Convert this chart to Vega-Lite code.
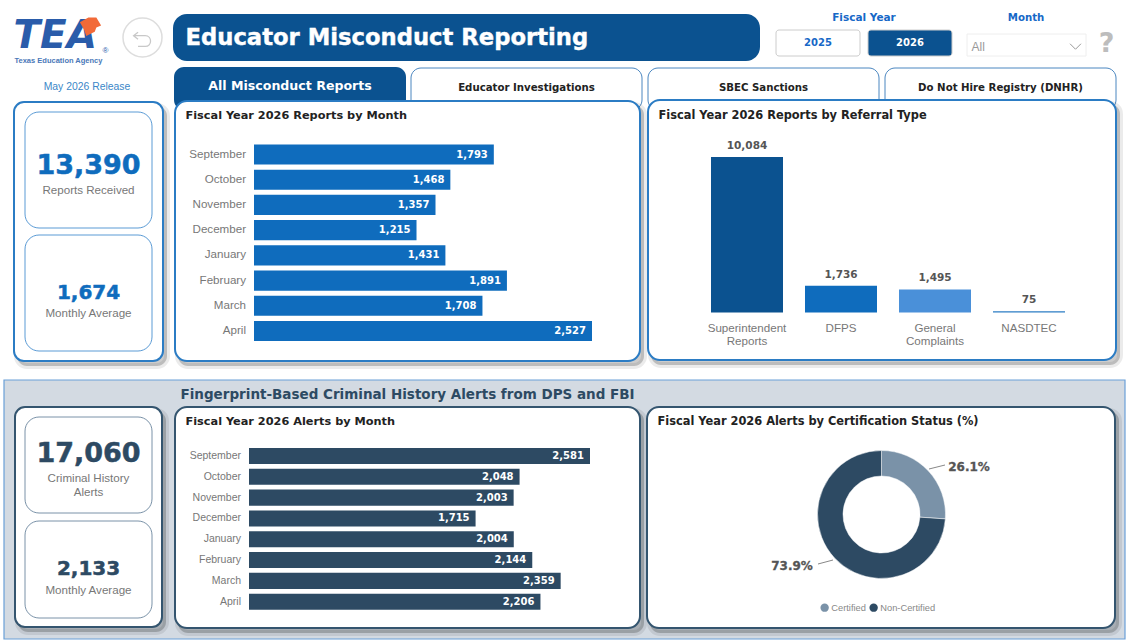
{"$schema":"https://vega.github.io/schema/vega-lite/v6.json","width":1140,"height":641,"padding":0,"autosize":{"type":"fit","contains":"padding"},"background":"white",
"config":{"view":{"stroke":null},"font":"Liberation Sans","scale":{"rectBandPaddingInner":0,"bandPaddingInner":0,"bandPaddingOuter":0},"text":{"font":"Liberation Sans"}},
"resolve":{"scale":{"x":"independent","y":"independent","color":"independent","theta":"independent"}},
"layer":[
{"data":{"values":[{"p":"Fingerprint-Based Criminal History Alerts from DPS and FBI"}]},"encoding":{"x":{"field":"p","type":"nominal","axis":null,"scale":{"type":"band","range":[4,1125]}},"y":{"field":"p","type":"nominal","axis":null,"scale":{"type":"band","range":[380,639]}}},"mark":{"type":"rect","fill":"#D3DAE2","stroke":"#6AA0D8","strokeWidth":1.2}},
{"data":{"values":[{"p":"Fingerprint-Based Criminal History Alerts from DPS and FBI"}]},"encoding":{"x":{"field":"p","type":"nominal","axis":null,"scale":{"type":"band","range":[180,181]}},"y":{"field":"p","type":"nominal","axis":null,"scale":{"type":"band","range":[394,395]}},"text":{"field":"p"}},"mark":{"type":"text","align":"left","baseline":"middle","font":"DejaVu Sans","fontWeight":"bold","fontSize":13.5,"fill":"#2D4A63"}},

{"data":{"values":[{"p":"TEA"}]},"encoding":{"x":{"field":"p","type":"nominal","axis":null,"scale":{"type":"band","range":[13,14]}},"y":{"field":"p","type":"nominal","axis":null,"scale":{"type":"band","range":[35,36]}},"text":{"field":"p"}},"mark":{"type":"text","align":"left","baseline":"middle","font":"DejaVu Sans","fontWeight":"bold","fontStyle":"italic","fontSize":39,"fill":"#2A5CAA"}},
{"data":{"values":[{"p":"logo hat"}]},"encoding":{"x":{"field":"p","type":"nominal","axis":null,"scale":{"type":"band","range":[90,91]}},"y":{"field":"p","type":"nominal","axis":null,"scale":{"type":"band","range":[26,27]}}},"mark":{"type":"point","filled":true,"fill":"#F26A38","opacity":1,"size":450,"shape":"M-1,-0.4 L-0.2,-0.85 L0.55,-0.85 L1,-0.1 L0.55,0.1 L0.4,0.5 L-0.4,0.9 L-0.6,0.3 Z"}},
{"data":{"values":[{"p":"®"}]},"encoding":{"x":{"field":"p","type":"nominal","axis":null,"scale":{"type":"band","range":[105,106]}},"y":{"field":"p","type":"nominal","axis":null,"scale":{"type":"band","range":[50,51]}},"text":{"field":"p"}},"mark":{"type":"text","fontSize":8,"fill":"#2A5CAA"}},
{"data":{"values":[{"p":"Texas Education Agency"}]},"encoding":{"x":{"field":"p","type":"nominal","axis":null,"scale":{"type":"band","range":[14,15]}},"y":{"field":"p","type":"nominal","axis":null,"scale":{"type":"band","range":[60,61]}},"text":{"field":"p"}},"mark":{"type":"text","align":"left","baseline":"middle","fontWeight":"bold","fontSize":7.5,"fill":"#4A78B8"}},
{"data":{"values":[{"p":"back"}]},"encoding":{"x":{"field":"p","type":"nominal","axis":null,"scale":{"type":"band","range":[123,162]}},"y":{"field":"p","type":"nominal","axis":null,"scale":{"type":"band","range":[18,57]}}},"layer":[{"mark":{"type":"rect","fill":"white","stroke":"#DDDDDD","strokeWidth":1.5,"cornerRadius":19.5}},{"mark":{"type":"point","filled":false,"stroke":"#C8C8C8","strokeWidth":1.3,"opacity":1,"size":320,"shape":"M-0.5,-0.6 L-1,-0.2 L-0.5,0.2 M-1,-0.2 L0.3,-0.2 C1.1,-0.2 1.1,1 0.3,1 L-0.5,1"}}]},
{"data":{"values":[{"p":"Educator Misconduct Reporting"}]},"encoding":{"x":{"field":"p","type":"nominal","axis":null,"scale":{"type":"band","range":[173,760]}},"y":{"field":"p","type":"nominal","axis":null,"scale":{"type":"band","range":[14,61]}}},"mark":{"type":"rect","fill":"#0B5290","cornerRadius":14}},
{"data":{"values":[{"p":"Educator Misconduct Reporting"}]},"encoding":{"x":{"field":"p","type":"nominal","axis":null,"scale":{"type":"band","range":[185,186]}},"y":{"field":"p","type":"nominal","axis":null,"scale":{"type":"band","range":[37,38]}},"text":{"field":"p"}},"mark":{"type":"text","align":"left","baseline":"middle","font":"DejaVu Sans","fontWeight":"bold","fontSize":22.7,"fill":"white","stroke":"white","strokeWidth":0.4}},
{"data":{"values":[{"p":"Fiscal Year"}]},"encoding":{"x":{"field":"p","type":"nominal","axis":null,"scale":{"type":"band","range":[840,888]}},"y":{"field":"p","type":"nominal","axis":null,"scale":{"type":"band","range":[12,24]}},"text":{"field":"p"}},"mark":{"type":"text","font":"DejaVu Sans","fontWeight":"bold","fontSize":10.5,"fill":"#1668C7"}},
{"data":{"values":[{"p":"Month"}]},"encoding":{"x":{"field":"p","type":"nominal","axis":null,"scale":{"type":"band","range":[1000,1052]}},"y":{"field":"p","type":"nominal","axis":null,"scale":{"type":"band","range":[12,24]}},"text":{"field":"p"}},"mark":{"type":"text","font":"DejaVu Sans","fontWeight":"bold","fontSize":10.2,"fill":"#1668C7"}},
{"data":{"values":[{"p":"2025"}]},"encoding":{"x":{"field":"p","type":"nominal","axis":null,"scale":{"type":"band","range":[776,860]}},"y":{"field":"p","type":"nominal","axis":null,"scale":{"type":"band","range":[30,56]}}},"layer":[{"mark":{"type":"rect","fill":"white","stroke":"#CCCCCC","cornerRadius":3}},{"encoding":{"text":{"field":"p"}},"mark":{"type":"text","font":"DejaVu Sans","fontWeight":"bold","fontSize":10,"fill":"#1668C7"}}]},
{"data":{"values":[{"p":"2026"}]},"encoding":{"x":{"field":"p","type":"nominal","axis":null,"scale":{"type":"band","range":[868,952]}},"y":{"field":"p","type":"nominal","axis":null,"scale":{"type":"band","range":[30,56]}}},"layer":[{"mark":{"type":"rect","fill":"#0B5290","stroke":"#CCCCCC","cornerRadius":3}},{"encoding":{"text":{"field":"p"}},"mark":{"type":"text","font":"DejaVu Sans","fontWeight":"bold","fontSize":10,"fill":"white"}}]},
{"data":{"values":[{"p":"All"}]},"encoding":{"x":{"field":"p","type":"nominal","axis":null,"scale":{"type":"band","range":[967,1086]}},"y":{"field":"p","type":"nominal","axis":null,"scale":{"type":"band","range":[34,56]}}},"mark":{"type":"rect","fill":"white","stroke":"#EEEEEE"}},
{"data":{"values":[{"p":"All"}]},"encoding":{"x":{"field":"p","type":"nominal","axis":null,"scale":{"type":"band","range":[971,972]}},"y":{"field":"p","type":"nominal","axis":null,"scale":{"type":"band","range":[46,47]}},"text":{"field":"p"}},"mark":{"type":"text","align":"left","baseline":"middle","fontSize":12,"fill":"#999999"}},
{"data":{"values":[{"p":"chevron"}]},"encoding":{"x":{"field":"p","type":"nominal","axis":null,"scale":{"type":"band","range":[1075,1076]}},"y":{"field":"p","type":"nominal","axis":null,"scale":{"type":"band","range":[46,47]}}},"mark":{"type":"point","filled":false,"stroke":"#999999","strokeWidth":1,"opacity":1,"size":120,"shape":"M-1,-0.5 L0,0.5 L1,-0.5"}},
{"data":{"values":[{"p":"?"}]},"encoding":{"x":{"field":"p","type":"nominal","axis":null,"scale":{"type":"band","range":[1106,1107]}},"y":{"field":"p","type":"nominal","axis":null,"scale":{"type":"band","range":[43,44]}},"text":{"field":"p"}},"mark":{"type":"text","baseline":"middle","font":"DejaVu Sans","fontWeight":"bold","fontSize":27,"fill":"#BDBDBD"}},
{"data":{"values":[{"p":"May 2026 Release"}]},"encoding":{"x":{"field":"p","type":"nominal","axis":null,"scale":{"type":"band","range":[40,134]}},"y":{"field":"p","type":"nominal","axis":null,"scale":{"type":"band","range":[81,93]}},"text":{"field":"p"}},"mark":{"type":"text","fontSize":10.4,"fill":"#3B87C8"}},

{"data":{"values":[{"p":"All Misconduct Reports"}]},"encoding":{"x":{"field":"p","type":"nominal","axis":null,"scale":{"type":"band","range":[174,406]}},"y":{"field":"p","type":"nominal","axis":null,"scale":{"type":"band","range":[67,110]}}},"mark":{"type":"rect","fill":"#0B5290","cornerRadius":10}},
{"data":{"values":[{"p":"All Misconduct Reports"}]},"encoding":{"x":{"field":"p","type":"nominal","axis":null,"scale":{"type":"band","range":[174,406]}},"y":{"field":"p","type":"nominal","axis":null,"scale":{"type":"band","range":[80,91]}},"text":{"field":"p"}},"mark":{"type":"text","font":"DejaVu Sans","fontWeight":"bold","fontSize":12.6,"fill":"white"}},
{"data":{"values":[{"p":"Educator Investigations"}]},"encoding":{"x":{"field":"p","type":"nominal","axis":null,"scale":{"type":"band","range":[411,642]}},"y":{"field":"p","type":"nominal","axis":null,"scale":{"type":"band","range":[68,110]}}},"mark":{"type":"rect","fill":"white","stroke":"#4A86C0","cornerRadius":10}},
{"data":{"values":[{"p":"Educator Investigations"}]},"encoding":{"x":{"field":"p","type":"nominal","axis":null,"scale":{"type":"band","range":[411,642]}},"y":{"field":"p","type":"nominal","axis":null,"scale":{"type":"band","range":[82,93]}},"text":{"field":"p"}},"mark":{"type":"text","font":"DejaVu Sans","fontWeight":"bold","fontSize":10.2,"fill":"#222222"}},
{"data":{"values":[{"p":"SBEC Sanctions"}]},"encoding":{"x":{"field":"p","type":"nominal","axis":null,"scale":{"type":"band","range":[648,879]}},"y":{"field":"p","type":"nominal","axis":null,"scale":{"type":"band","range":[68,110]}}},"mark":{"type":"rect","fill":"white","stroke":"#4A86C0","cornerRadius":10}},
{"data":{"values":[{"p":"SBEC Sanctions"}]},"encoding":{"x":{"field":"p","type":"nominal","axis":null,"scale":{"type":"band","range":[648,879]}},"y":{"field":"p","type":"nominal","axis":null,"scale":{"type":"band","range":[82,93]}},"text":{"field":"p"}},"mark":{"type":"text","font":"DejaVu Sans","fontWeight":"bold","fontSize":10.2,"fill":"#222222"}},
{"data":{"values":[{"p":"Do Not Hire Registry (DNHR)"}]},"encoding":{"x":{"field":"p","type":"nominal","axis":null,"scale":{"type":"band","range":[885,1116]}},"y":{"field":"p","type":"nominal","axis":null,"scale":{"type":"band","range":[68,110]}}},"mark":{"type":"rect","fill":"white","stroke":"#4A86C0","cornerRadius":10}},
{"data":{"values":[{"p":"Do Not Hire Registry (DNHR)"}]},"encoding":{"x":{"field":"p","type":"nominal","axis":null,"scale":{"type":"band","range":[885,1116]}},"y":{"field":"p","type":"nominal","axis":null,"scale":{"type":"band","range":[82,93]}},"text":{"field":"p"}},"mark":{"type":"text","font":"DejaVu Sans","fontWeight":"bold","fontSize":10.2,"fill":"#222222"}},

{"data":{"values":[{"p":"s1"}]},"encoding":{"x":{"field":"p","type":"nominal","axis":null,"scale":{"type":"band","range":[17,167]}},"y":{"field":"p","type":"nominal","axis":null,"scale":{"type":"band","range":[106,366]}}},"mark":{"type":"rect","fill":"#000000","fillOpacity":0.2,"stroke":"#000000","strokeOpacity":0.08,"strokeWidth":6,"cornerRadius":10}},
{"data":{"values":[{"p":"s2"}]},"encoding":{"x":{"field":"p","type":"nominal","axis":null,"scale":{"type":"band","range":[178,644]}},"y":{"field":"p","type":"nominal","axis":null,"scale":{"type":"band","range":[105,366]}}},"mark":{"type":"rect","fill":"#000000","fillOpacity":0.2,"stroke":"#000000","strokeOpacity":0.08,"strokeWidth":6,"cornerRadius":10}},
{"data":{"values":[{"p":"s3"}]},"encoding":{"x":{"field":"p","type":"nominal","axis":null,"scale":{"type":"band","range":[651,1120]}},"y":{"field":"p","type":"nominal","axis":null,"scale":{"type":"band","range":[104,365]}}},"mark":{"type":"rect","fill":"#000000","fillOpacity":0.2,"stroke":"#000000","strokeOpacity":0.08,"strokeWidth":6,"cornerRadius":10}},
{"data":{"values":[{"p":"s4"}]},"encoding":{"x":{"field":"p","type":"nominal","axis":null,"scale":{"type":"band","range":[18,166]}},"y":{"field":"p","type":"nominal","axis":null,"scale":{"type":"band","range":[411,632]}}},"mark":{"type":"rect","fill":"#000000","fillOpacity":0.2,"stroke":"#000000","strokeOpacity":0.08,"strokeWidth":6,"cornerRadius":10}},
{"data":{"values":[{"p":"s5"}]},"encoding":{"x":{"field":"p","type":"nominal","axis":null,"scale":{"type":"band","range":[178,644]}},"y":{"field":"p","type":"nominal","axis":null,"scale":{"type":"band","range":[411,633]}}},"mark":{"type":"rect","fill":"#000000","fillOpacity":0.2,"stroke":"#000000","strokeOpacity":0.08,"strokeWidth":6,"cornerRadius":10}},
{"data":{"values":[{"p":"s6"}]},"encoding":{"x":{"field":"p","type":"nominal","axis":null,"scale":{"type":"band","range":[650,1119]}},"y":{"field":"p","type":"nominal","axis":null,"scale":{"type":"band","range":[411,633]}}},"mark":{"type":"rect","fill":"#000000","fillOpacity":0.2,"stroke":"#000000","strokeOpacity":0.08,"strokeWidth":6,"cornerRadius":10}},

{"data":{"values":[{"p":"top kpi"}]},"encoding":{"x":{"field":"p","type":"nominal","axis":null,"scale":{"type":"band","range":[14,163]}},"y":{"field":"p","type":"nominal","axis":null,"scale":{"type":"band","range":[102,361]}}},"mark":{"type":"rect","fill":"white","stroke":"#2B7CC4","strokeWidth":2,"cornerRadius":10}},
{"data":{"values":[{"p":"Reports Received","v":13390}]},"encoding":{"x":{"field":"p","type":"nominal","axis":null,"scale":{"type":"band","range":[25,152]}},"y":{"field":"p","type":"nominal","axis":null,"scale":{"type":"band","range":[112,228]}}},"layer":[{"mark":{"type":"rect","fill":"white","stroke":"#5B9BD5","cornerRadius":14}},{"encoding":{"text":{"field":"v","type":"quantitative","format":","}},"mark":{"type":"text","dy":-4,"font":"DejaVu Sans","fontWeight":"bold","fontSize":27,"fill":"#0F6CBD","stroke":"#0F6CBD","strokeWidth":0.5}},{"encoding":{"text":{"field":"p"}},"mark":{"type":"text","dy":21,"fontSize":11.6,"fill":"#777777"}}]},
{"data":{"values":[{"p":"Monthly Average","v":1674}]},"encoding":{"x":{"field":"p","type":"nominal","axis":null,"scale":{"type":"band","range":[25,152]}},"y":{"field":"p","type":"nominal","axis":null,"scale":{"type":"band","range":[235,351]}}},"layer":[{"mark":{"type":"rect","fill":"white","stroke":"#5B9BD5","cornerRadius":14}},{"encoding":{"text":{"field":"v","type":"quantitative","format":","}},"mark":{"type":"text","dy":0,"font":"DejaVu Sans","fontWeight":"bold","fontSize":20,"fill":"#0F6CBD","stroke":"#0F6CBD","strokeWidth":0.5}},{"encoding":{"text":{"field":"p"}},"mark":{"type":"text","dy":21,"fontSize":11.6,"fill":"#777777"}}]},

{"data":{"values":[{"p":"Fiscal Year 2026 Reports by Month"}]},"encoding":{"x":{"field":"p","type":"nominal","axis":null,"scale":{"type":"band","range":[175,640]}},"y":{"field":"p","type":"nominal","axis":null,"scale":{"type":"band","range":[101,361]}}},"mark":{"type":"rect","fill":"white","stroke":"#2B7CC4","strokeWidth":2,"cornerRadius":12}},
{"data":{"values":[{"p":"Fiscal Year 2026 Reports by Month"}]},"encoding":{"x":{"field":"p","type":"nominal","axis":null,"scale":{"type":"band","range":[185,186]}},"y":{"field":"p","type":"nominal","axis":null,"scale":{"type":"band","range":[115,116]}},"text":{"field":"p"}},"mark":{"type":"text","align":"left","baseline":"middle","font":"DejaVu Sans","fontWeight":"bold","fontSize":11.3,"fill":"#222222"}},
{"data":{"values":[{"month":"September","reports":1793},{"month":"October","reports":1468},{"month":"November","reports":1357},{"month":"December","reports":1215},{"month":"January","reports":1431},{"month":"February","reports":1891},{"month":"March","reports":1708},{"month":"April","reports":2527}]},"encoding":{"y":{"field":"month","type":"nominal","sort":null,"axis":null,"scale":{"type":"band","range":[141.9,343.6],"paddingInner":0.2,"paddingOuter":0.1}}},"layer":[
{"encoding":{"x":{"field":"reports","type":"quantitative","axis":null,"scale":{"domain":[0,2527],"range":[254,592],"nice":false}}},"mark":{"type":"bar","fill":"#0F6CBD"}},
{"encoding":{"x":{"field":"reports","type":"quantitative","axis":null},"text":{"field":"reports","type":"quantitative","format":","}},"mark":{"type":"text","align":"right","dx":-6,"font":"DejaVu Sans","fontWeight":"bold","fontSize":10,"fill":"white"}},
{"encoding":{"x":{"datum":0,"type":"quantitative","axis":null},"text":{"field":"month"}},"mark":{"type":"text","align":"right","dx":-8,"fontSize":11.6,"fill":"#777777"}}]},

{"data":{"values":[{"p":"Fiscal Year 2026 Reports by Referral Type"}]},"encoding":{"x":{"field":"p","type":"nominal","axis":null,"scale":{"type":"band","range":[648,1116]}},"y":{"field":"p","type":"nominal","axis":null,"scale":{"type":"band","range":[100,360]}}},"mark":{"type":"rect","fill":"white","stroke":"#2B7CC4","strokeWidth":2,"cornerRadius":12}},
{"data":{"values":[{"p":"Fiscal Year 2026 Reports by Referral Type"}]},"encoding":{"x":{"field":"p","type":"nominal","axis":null,"scale":{"type":"band","range":[658,659]}},"y":{"field":"p","type":"nominal","axis":null,"scale":{"type":"band","range":[115,116]}},"text":{"field":"p"}},"mark":{"type":"text","align":"left","baseline":"middle","font":"DejaVu Sans","fontWeight":"bold","fontSize":11.4,"fill":"#222222"}},
{"data":{"values":[{"type":"Superintendent Reports","reports":10084},{"type":"DFPS","reports":1736},{"type":"General Complaints","reports":1495},{"type":"NASDTEC","reports":75}]},"encoding":{"x":{"field":"type","type":"nominal","sort":null,"axis":null,"scale":{"type":"band","range":[700,1076],"paddingInner":0.234,"paddingOuter":0.117}}},"layer":[
{"encoding":{"y":{"field":"reports","type":"quantitative","axis":null,"scale":{"domain":[0,10084],"range":[312.5,157],"nice":false}},"color":{"field":"type","type":"nominal","legend":null,"sort":null,"scale":{"domain":["Superintendent Reports","DFPS","General Complaints","NASDTEC"],"range":["#0B5290","#0F6CBD","#4A90D9","#2B7CC4"]}}},"mark":{"type":"bar"}},
{"encoding":{"y":{"field":"reports","type":"quantitative","axis":null},"text":{"field":"reports","type":"quantitative","format":","}},"mark":{"type":"text","baseline":"bottom","dy":-6,"font":"DejaVu Sans","fontWeight":"bold","fontSize":10.5,"fill":"#555555"}},
{"encoding":{"y":{"datum":0,"type":"quantitative","axis":null},"text":{"field":"type"}},"mark":{"type":"text","baseline":"top","dy":10,"lineBreak":" ","lineHeight":13,"fontSize":11.6,"fill":"#777777"}}]},

{"data":{"values":[{"p":"lower kpi"}]},"encoding":{"x":{"field":"p","type":"nominal","axis":null,"scale":{"type":"band","range":[15,162]}},"y":{"field":"p","type":"nominal","axis":null,"scale":{"type":"band","range":[407,627]}}},"mark":{"type":"rect","fill":"white","stroke":"#34556F","strokeWidth":2,"cornerRadius":10}},
{"data":{"values":[{"p":"Criminal History Alerts","v":17060}]},"encoding":{"x":{"field":"p","type":"nominal","axis":null,"scale":{"type":"band","range":[25,152]}},"y":{"field":"p","type":"nominal","axis":null,"scale":{"type":"band","range":[417,513]}}},"layer":[{"mark":{"type":"rect","fill":"white","stroke":"#7A92A8","cornerRadius":14}},{"encoding":{"text":{"field":"v","type":"quantitative","format":","}},"mark":{"type":"text","dy":-11,"font":"DejaVu Sans","fontWeight":"bold","fontSize":27,"fill":"#2D4A63","stroke":"#2D4A63","strokeWidth":0.5}},{"encoding":{"text":{"value":["Criminal History","Alerts"]}},"mark":{"type":"text","dy":14,"lineHeight":14,"fontSize":11.6,"fill":"#777777"}}]},
{"data":{"values":[{"p":"Monthly Average","v":2133}]},"encoding":{"x":{"field":"p","type":"nominal","axis":null,"scale":{"type":"band","range":[25,152]}},"y":{"field":"p","type":"nominal","axis":null,"scale":{"type":"band","range":[521,618]}}},"layer":[{"mark":{"type":"rect","fill":"white","stroke":"#7A92A8","cornerRadius":14}},{"encoding":{"text":{"field":"v","type":"quantitative","format":","}},"mark":{"type":"text","dy":-1,"font":"DejaVu Sans","fontWeight":"bold","fontSize":20,"fill":"#2D4A63","stroke":"#2D4A63","strokeWidth":0.5}},{"encoding":{"text":{"field":"p"}},"mark":{"type":"text","dy":21,"fontSize":11.6,"fill":"#777777"}}]},

{"data":{"values":[{"p":"Fiscal Year 2026 Alerts by Month"}]},"encoding":{"x":{"field":"p","type":"nominal","axis":null,"scale":{"type":"band","range":[175,640]}},"y":{"field":"p","type":"nominal","axis":null,"scale":{"type":"band","range":[407,628]}}},"mark":{"type":"rect","fill":"white","stroke":"#34556F","strokeWidth":2,"cornerRadius":12}},
{"data":{"values":[{"p":"Fiscal Year 2026 Alerts by Month"}]},"encoding":{"x":{"field":"p","type":"nominal","axis":null,"scale":{"type":"band","range":[185,186]}},"y":{"field":"p","type":"nominal","axis":null,"scale":{"type":"band","range":[421,422]}},"text":{"field":"p"}},"mark":{"type":"text","align":"left","baseline":"middle","font":"DejaVu Sans","fontWeight":"bold","fontSize":11.3,"fill":"#222222"}},
{"data":{"values":[{"month":"September","alerts":2581},{"month":"October","alerts":2048},{"month":"November","alerts":2003},{"month":"December","alerts":1715},{"month":"January","alerts":2004},{"month":"February","alerts":2144},{"month":"March","alerts":2359},{"month":"April","alerts":2206}]},"encoding":{"y":{"field":"month","type":"nominal","sort":null,"axis":null,"scale":{"type":"band","range":[445.6,612.1],"paddingInner":0.23,"paddingOuter":0.115}}},"layer":[
{"encoding":{"x":{"field":"alerts","type":"quantitative","axis":null,"scale":{"domain":[0,2581],"range":[249,590],"nice":false}}},"mark":{"type":"bar","fill":"#2D4A63"}},
{"encoding":{"x":{"field":"alerts","type":"quantitative","axis":null},"text":{"field":"alerts","type":"quantitative","format":","}},"mark":{"type":"text","align":"right","dx":-6,"font":"DejaVu Sans","fontWeight":"bold","fontSize":10,"fill":"white"}},
{"encoding":{"x":{"datum":0,"type":"quantitative","axis":null},"text":{"field":"month"}},"mark":{"type":"text","align":"right","dx":-8,"fontSize":10.5,"fill":"#777777"}}]},

{"data":{"values":[{"p":"Fiscal Year 2026 Alerts by Certification Status (%)"}]},"encoding":{"x":{"field":"p","type":"nominal","axis":null,"scale":{"type":"band","range":[647,1115]}},"y":{"field":"p","type":"nominal","axis":null,"scale":{"type":"band","range":[407,628]}}},"mark":{"type":"rect","fill":"white","stroke":"#34556F","strokeWidth":2,"cornerRadius":12}},
{"data":{"values":[{"p":"Fiscal Year 2026 Alerts by Certification Status (%)"}]},"encoding":{"x":{"field":"p","type":"nominal","axis":null,"scale":{"type":"band","range":[657,658]}},"y":{"field":"p","type":"nominal","axis":null,"scale":{"type":"band","range":[421,422]}},"text":{"field":"p"}},"mark":{"type":"text","align":"left","baseline":"middle","font":"DejaVu Sans","fontWeight":"bold","fontSize":11.4,"fill":"#222222"}},
{"data":{"values":[{"status":"Certified","share":0.261,"chart":"donut"},{"status":"Non-Certified","share":0.739,"chart":"donut"}]},"encoding":{"x":{"field":"chart","type":"nominal","axis":null,"scale":{"type":"band","range":[881,882]}},"y":{"field":"chart","type":"nominal","axis":null,"scale":{"type":"band","range":[514,515]}},"theta":{"field":"share","type":"quantitative","stack":true},"order":{"field":"share","type":"quantitative","sort":"ascending"},"color":{"field":"status","type":"nominal","title":null,"scale":{"domain":["Certified","Non-Certified"],"range":["#7A92A8","#2D4A63"]},"legend":{"orient":"none","legendX":820,"legendY":603,"direction":"horizontal","symbolType":"circle","symbolSize":70,"symbolStrokeWidth":0,"labelFontSize":9.3,"labelColor":"#888888","columns":2,"columnPadding":3,"labelOffset":2}}},"mark":{"type":"arc","radius":64,"radius2":38.5,"stroke":"white","strokeWidth":0.5}},
{"data":{"values":[{"status":"Certified","share":0.261},{"status":"Non-Certified","share":0.739}]},"encoding":{"x":{"field":"status","type":"nominal","axis":null,"scale":{"type":"point","padding":0,"range":[969,792]}},"y":{"field":"status","type":"nominal","axis":null,"scale":{"type":"point","padding":0,"range":[467,566]}},"text":{"field":"share","type":"quantitative","format":".1%"}},"mark":{"type":"text","font":"DejaVu Sans","fontWeight":"bold","fontSize":12,"fill":"#555555","stroke":"#555555","strokeWidth":0.3}},
{"data":{"values":[{"end":"arc"},{"end":"label"}]},"encoding":{"x":{"field":"end","type":"nominal","axis":null,"scale":{"type":"point","padding":0,"range":[929,945]}},"y":{"field":"end","type":"nominal","axis":null,"scale":{"type":"point","padding":0,"range":[469,465]}}},"mark":{"type":"line","stroke":"#888888","strokeWidth":1}},
{"data":{"values":[{"end":"arc"},{"end":"label"}]},"encoding":{"x":{"field":"end","type":"nominal","axis":null,"scale":{"type":"point","padding":0,"range":[833,818]}},"y":{"field":"end","type":"nominal","axis":null,"scale":{"type":"point","padding":0,"range":[560,564]}}},"mark":{"type":"line","stroke":"#888888","strokeWidth":1}}
]}
